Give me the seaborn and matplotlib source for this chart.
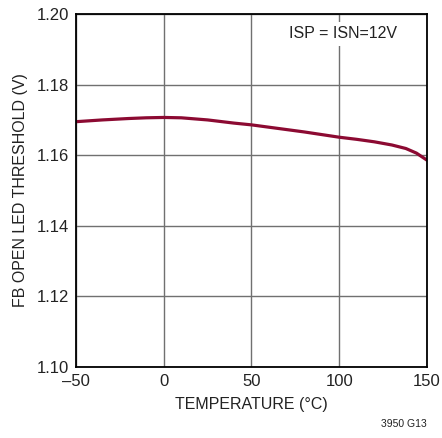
import numpy as np
import pandas as pd
import matplotlib
matplotlib.use("Agg")
import matplotlib.pyplot as plt
import seaborn as sns

# --- DATA
temp = [-50, -35, -20, -10, 0, 10, 25, 40, 50, 65, 80, 100, 110, 120,
        130, 138, 144, 150]
vth = [1.1695, 1.1700, 1.1704, 1.1706, 1.1707, 1.1706, 1.1700, 1.1691,
       1.1686, 1.1676, 1.1666, 1.1651, 1.1645, 1.1638, 1.1629, 1.1619,
       1.1606, 1.1586]
xticks = [-50, 0, 50, 100, 150]
yticks = [1.10, 1.12, 1.14, 1.16, 1.18, 1.20]

df = pd.DataFrame({'temp': temp, 'vth': vth})

sns.set_style("white")
plt.rcParams['font.family'] = ['Liberation Sans Narrow', 'Liberation Sans', 'DejaVu Sans']

fig = plt.figure(figsize=(4.42, 4.38), dpi=100)
ax = fig.add_axes([0.172, 0.162, 0.794, 0.806])

sns.lineplot(data=df, x='temp', y='vth', ax=ax, color='#8c0a32', linewidth=2.3)

ax.set_xlim(-50, 150)
ax.set_ylim(1.10, 1.20)
ax.set_xticks(xticks)
ax.set_yticks(yticks)
ax.set_xticklabels(['\u201350', '0', '50', '100', '150'])
ax.set_yticklabels([f'{v:.2f}' for v in yticks])
ax.grid(True, color='#707070', linewidth=1.0)
ax.set_axisbelow(True)
for s in ax.spines.values():
    s.set_color('black')
    s.set_linewidth(1.3)
ax.tick_params(length=0, labelsize=12, colors='#222222', pad=5)

ax.set_xlabel('TEMPERATURE (\u00b0C)', fontsize=11.5, color='#222222', labelpad=6)
ax.set_ylabel('FB OPEN LED THRESHOLD (V)', fontsize=11.5, color='#222222', labelpad=6)

ax.text(0.76, 0.965, 'ISP = ISN=12V', transform=ax.transAxes, ha='center', va='top',
        fontsize=11.5, color='#222222',
        bbox=dict(facecolor='white', edgecolor='none', pad=3))

fig.text(0.965, 0.02, '3950 G13', ha='right', va='bottom', fontsize=7.5, color='#222222')

plt.savefig('out.png', dpi=100)
